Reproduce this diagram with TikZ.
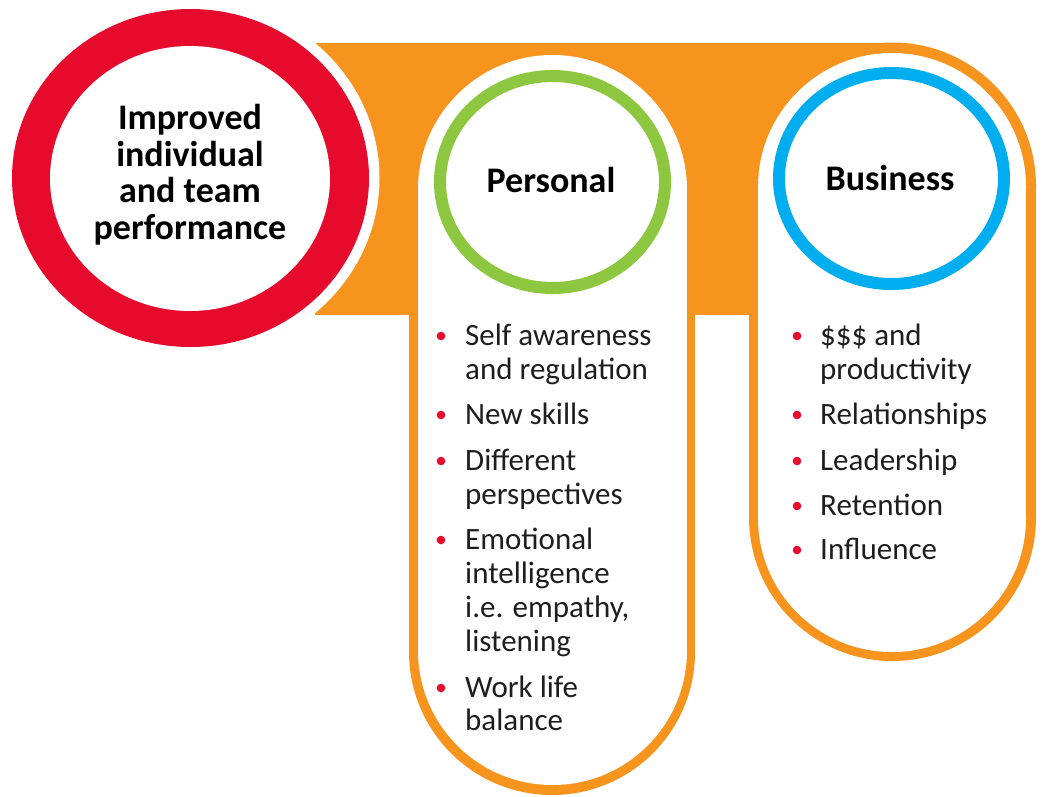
\documentclass[tikz,border=0pt]{standalone}
\usepackage{fontspec}
\setmainfont{Carlito}
\definecolor{orng}{RGB}{247,148,30}
\definecolor{redr}{RGB}{230,10,44}
\definecolor{grn}{RGB}{141,198,63}
\definecolor{blu}{RGB}{0,174,239}
\definecolor{txt}{RGB}{30,30,30}
\tikzset{
  head/.style={font=\fontsize{36}{37}\selectfont\bfseries, text=black, inner sep=0pt},
  bul/.style={font=\fontsize{31}{34}\selectfont, text=txt, inner sep=0pt, anchor=base west},
  dot/.style={fill=redr, draw=none},
}
\begin{document}
\begin{tikzpicture}[x=1pt,y=-1pt]
\useasboundingbox (0,0) rectangle (1042,796);
% orange band and outer pills
\fill[orng] (315,43) rectangle (893,315);
\fill[orng] (409,200) rectangle (695,652);
\fill[orng] (552,652) circle[radius=143];
\fill[orng] (749,186) rectangle (1036,517.5);
\fill[orng] (892.5,186) circle[radius=143.5];
\fill[orng] (892.5,517.5) circle[radius=143.5];
% inner white pills
\fill[white] (552.5,189.5) circle[radius=134.5];
\fill[white] (418,189.5) rectangle (687,650.5);
\fill[white] (552.5,650.5) circle[radius=134.5];
\fill[white] (892,187) circle[radius=134];
\fill[white] (758,187) rectangle (1026,518);
\fill[white] (892,518) circle[radius=134];
% red ring
\fill[white] (190.5,178) ellipse[x radius=189, y radius=179.5];
\fill[redr] (190.5,178) ellipse[x radius=178.5, y radius=169];
\fill[white] (190,178.5) ellipse[x radius=140, y radius=132.5];
% green and blue rings
\draw[grn, line width=12pt] (552.5,182) ellipse[x radius=112.5, y radius=106];
\draw[blu, line width=12pt] (891.5,178.5) ellipse[x radius=112.5, y radius=105.5];
% headings
\node[head, anchor=base] (t1) at (190,129) {Improved};
\node[head, anchor=base] (t2) at (190,166) {individual};
\node[head, anchor=base] (t3) at (190,202) {and team};
\node[head, anchor=base] (t4) at (190,239) {performance};
\node[head, anchor=base] (pers) at (551,192) {Personal};
\node[head, anchor=base] (bus) at (890,190) {Business};
% personal bullets
\foreach \y in {336,415,461,540,688} \fill[dot] (441,\y) circle[radius=4.3];
\node[bul] (p1a) at (465,345) {Self awareness};
\node[bul] (p1b) at (465,379) {and regulation};
\node[bul] (p2) at (465,424) {New skills};
\node[bul] (p3a) at (465,470) {Different};
\node[bul] (p3b) at (465,504) {perspectives};
\node[bul] (p4a) at (465,549) {Emotional};
\node[bul] (p4b) at (465,583) {intelligence};
\node[bul] (p4c) at (465,617) {i.e. empathy,};
\node[bul] (p4d) at (465,651) {listening};
\node[bul] (p5a) at (465,697) {Work life};
\node[bul] (p5b) at (465,730) {balance};
% business bullets
\foreach \y in {336,415,461,506,550} \fill[dot] (797,\y) circle[radius=4.3];
\node[bul] (b1a) at (820,345) {\$\$\$ and};
\node[bul] (b1b) at (820,379) {productivity};
\node[bul] (b2) at (820,424) {Relationships};
\node[bul] (b3) at (820,470) {Leadership};
\node[bul] (b4) at (820,515) {Retention};
\node[bul] (b5) at (820,559) {Influence};
\end{tikzpicture}
\end{document}
